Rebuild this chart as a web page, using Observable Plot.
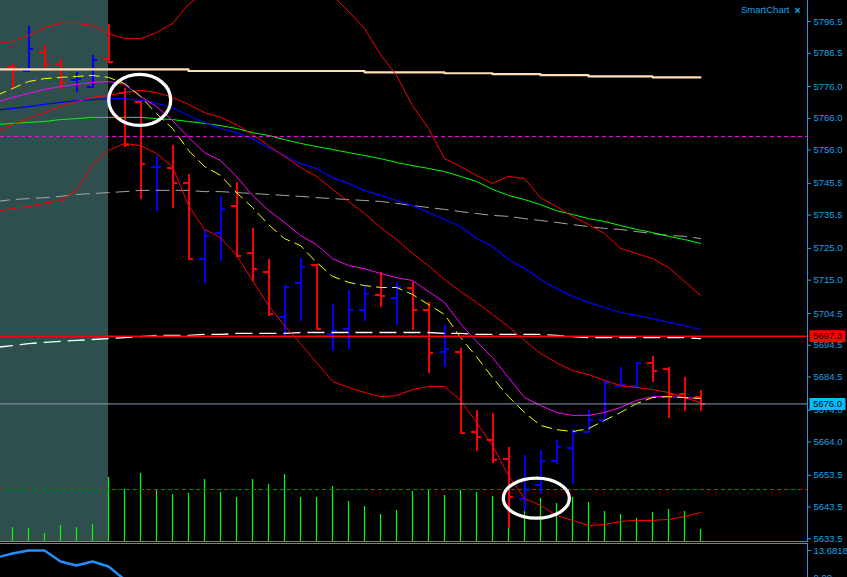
<!DOCTYPE html>
<html>
<head>
<meta charset="utf-8">
<script src="https://cdn.jsdelivr.net/npm/d3@7"></script>
<script src="https://cdn.jsdelivr.net/npm/@observablehq/plot@0.6"></script>
<style>
  html, body { margin: 0; padding: 0; background: #000; }
  #chart { position: relative; width: 847px; height: 577px; background: #000; overflow: hidden; }
  #chart > svg { position: absolute; left: 0; top: 0; }
</style>
</head>
<body>
<div id="chart"></div>
<script>
// ---------------- DATA ----------------
// OHLC bars (bar index 0..43)
const barOpen  = [5782.25,5780.75,5787.0,5783.25,5778.0,5775.75,5784.75,5774.0,5771.0,5750.5,5750.25,5745.75,5721.75,5730.0,5738.25,5723.5,5717.5,5703.25,5714.25,5719.75,5698.0,5699.75,5705.5,5710.25,5709.25,5712.5,5705.5,5692.25,5692.5,5667.0,5664.75,5658.75,5646.0,5650.5,5658.0,5662.25,5667.0,5671.0,5681.75,5681.5,5689.0,5687.0,5679.25,5678.25];
const barHigh  = [5783.0,5795.0,5789.0,5784.5,5780.5,5785.75,5795.5,5775.5,5771.5,5754.0,5757.5,5748.25,5731.0,5741.5,5745.75,5731.25,5721.5,5713.25,5721.75,5720.0,5707.25,5711.75,5713.0,5717.5,5714.25,5714.25,5708.0,5700.75,5693.5,5674.0,5673.0,5662.25,5659.75,5661.25,5664.5,5668.0,5674.0,5683.5,5687.5,5688.75,5691.0,5687.5,5684.25,5680.25];
const barLow   = [5775.0,5780.5,5781.75,5775.0,5774.0,5775.5,5783.5,5756.75,5740.5,5736.5,5737.5,5721.5,5714.0,5721.0,5722.25,5714.5,5703.5,5697.0,5702.0,5699.25,5692.5,5693.0,5702.0,5706.5,5700.75,5699.0,5685.5,5687.5,5666.25,5661.0,5657.25,5636.75,5642.0,5647.5,5657.0,5650.5,5666.75,5670.75,5681.5,5681.0,5682.75,5671.5,5673.5,5673.5];
const barClose = [5782.0,5787.75,5783.25,5777.0,5778.25,5784.25,5783.75,5757.5,5751.5,5750.75,5745.75,5721.75,5729.0,5737.5,5722.5,5718.5,5704.25,5713.0,5719.25,5699.5,5699.0,5705.5,5710.75,5710.0,5712.75,5705.5,5692.0,5693.25,5666.75,5665.5,5658.25,5646.75,5649.0,5658.0,5662.5,5667.0,5671.0,5682.5,5682.0,5688.75,5686.25,5679.25,5677.75,5676.0];
const barVolume = [1400,1300,800,1600,1400,1700,6400,5200,6800,5100,4700,4800,6200,4900,4400,6200,5700,6700,4400,4400,5500,4000,3500,2700,3100,5000,5100,4600,5100,4900,4500,5800,5700,4300,3800,4400,3900,3000,2700,2300,2900,3200,3000,1200];
const volumeAverage = 5200;

// indicator series, bar index -1..43
const upperBand  = [5789.6,5790.2,5792.1,5794.6,5795.9,5795.9,5795.2,5792.7,5791.1,5791.1,5793.0,5795.9,5801.9,5805.6,5811.0,5815.7,5818.9,5820.4,5819.5,5815.7,5810.1,5804.7,5799.7,5794.3,5786.1,5779.5,5770.0,5762.8,5753.3,5750.8,5748.0,5745.5,5747.7,5747.0,5741.0,5738.2,5735.1,5732.5,5729.7,5725.0,5723.4,5721.8,5719.0,5714.6,5710.2];
const middleBand = [5761.5,5764.0,5765.9,5767.8,5769.7,5771.3,5772.6,5773.2,5774.1,5774.8,5774.1,5772.6,5770.4,5767.8,5766.3,5764.0,5760.9,5757.4,5754.0,5750.5,5747.7,5743.6,5739.8,5736.0,5731.6,5727.8,5723.4,5719.6,5715.2,5711.4,5708.0,5704.2,5700.4,5696.0,5691.9,5689.0,5686.5,5685.3,5683.4,5681.8,5681.2,5680.5,5679.6,5678.0,5676.4];
const lowerBand  = [5736.6,5737.6,5738.2,5739.2,5740.1,5743.3,5751.4,5755.9,5758.1,5757.4,5754.9,5750.8,5738.5,5731.0,5728.4,5722.8,5714.9,5707.0,5700.7,5695.0,5689.0,5683.1,5681.2,5679.6,5678.3,5678.6,5680.5,5681.5,5681.5,5677.1,5670.2,5662.9,5653.4,5646.2,5644.0,5640.9,5639.3,5637.7,5638.0,5639.0,5639.3,5639.3,5639.6,5640.5,5641.8];
const fastMA     = [5773.2,5775.4,5777.6,5778.5,5778.9,5779.2,5779.5,5778.9,5777.0,5772.9,5767.5,5762.8,5755.9,5750.8,5748.0,5742.6,5737.9,5732.5,5728.1,5725.9,5720.6,5716.2,5714.3,5713.3,5712.7,5712.7,5710.5,5707.3,5704.2,5696.9,5690.9,5684.3,5678.3,5673.3,5669.2,5667.9,5667.3,5668.2,5670.8,5673.3,5676.1,5678.0,5678.3,5678.0,5677.7];
const magentaMA  = [5771.0,5772.6,5773.8,5775.1,5776.0,5776.7,5777.3,5777.6,5776.7,5772.9,5769.7,5765.3,5760.0,5755.2,5752.7,5747.7,5741.7,5737.0,5733.2,5729.1,5726.2,5721.8,5719.6,5718.6,5717.1,5715.8,5714.9,5711.4,5708.0,5701.3,5695.7,5690.6,5684.3,5678.0,5675.5,5673.3,5672.4,5672.4,5673.3,5674.9,5677.1,5678.3,5678.3,5678.0,5677.7];
const blueMA     = [5768.5,5769.1,5769.7,5770.4,5771.0,5771.6,5771.9,5772.2,5772.2,5771.6,5770.7,5769.4,5766.9,5764.7,5762.8,5761.5,5759.6,5756.8,5754.3,5751.7,5750.2,5747.3,5745.5,5743.3,5741.7,5740.1,5738.5,5736.3,5734.1,5731.9,5728.1,5725.6,5721.5,5718.7,5715.2,5712.4,5709.9,5708.0,5706.4,5704.8,5703.9,5702.9,5701.7,5700.7,5699.4];
const greenMA    = [5764.0,5764.4,5764.7,5765.0,5765.6,5765.9,5766.3,5766.3,5766.3,5766.3,5765.9,5765.6,5765.0,5764.4,5763.7,5762.8,5761.5,5760.6,5759.3,5758.1,5757.1,5756.2,5755.2,5754.3,5753.3,5752.1,5751.1,5750.2,5749.2,5747.7,5746.1,5743.6,5741.7,5740.4,5738.8,5736.9,5735.7,5734.4,5733.5,5732.2,5731.0,5730.0,5728.8,5727.8,5726.6];
const grayMA     = [5739.8,5740.4,5740.7,5741.0,5741.4,5742.0,5742.3,5742.6,5742.9,5743.3,5743.3,5743.3,5743.3,5742.9,5742.9,5742.6,5742.3,5742.0,5741.7,5741.4,5741.0,5740.7,5740.4,5740.1,5739.8,5739.2,5738.5,5737.9,5737.3,5736.6,5736.0,5735.4,5735.1,5734.4,5733.8,5733.2,5732.5,5731.9,5731.3,5731.0,5730.3,5729.7,5729.1,5728.8,5728.1];
const whiteMA    = [5693.8,5694.4,5695.0,5695.4,5695.7,5696.0,5696.3,5696.6,5696.9,5697.2,5697.6,5697.6,5697.6,5697.9,5697.9,5698.2,5698.2,5698.2,5698.2,5698.5,5698.5,5698.5,5698.5,5698.5,5698.5,5698.5,5698.5,5698.5,5698.2,5698.2,5697.9,5697.9,5697.9,5697.9,5697.9,5697.6,5697.2,5696.9,5696.9,5696.9,5696.9,5696.9,5696.9,5696.9,5696.6];
const beigeMA    = [5781.4,5781.4,5781.4,5781.4,5781.4,5781.4,5781.4,5781.4,5781.4,5781.4,5781.4,5781.4,5780.9,5780.9,5780.9,5780.9,5780.9,5780.9,5780.9,5780.9,5780.9,5780.9,5780.9,5780.5,5780.5,5780.5,5780.5,5780.5,5780.2,5780.2,5780.2,5779.9,5779.9,5779.9,5779.6,5779.6,5779.6,5779.2,5779.2,5779.2,5779.2,5778.9,5778.9,5778.9,5778.9];
const seriesFirstBar = -1;

// lower pane oscillator (bar index -1..7)
const oscillator = [10.13,12.16,13.6818,13.6818,8.11,6.08,8.11,5.57,-1.01];
const oscillatorTicks = [13.6818, 0];

// levels and annotations
const magentaLevel = 5760.25;
const redLevel = 5697.3;
const bidLevel = 5676.0;
const priceTicks = [5796.5,5786.5,5776.0,5766.0,5756.0,5745.5,5735.5,5725.0,5715.0,5704.5,5694.5,5684.5,5674.0,5664.0,5653.5,5643.5,5633.5];
const sessionShade = [{start: -1, end: 6}];
const circledBars = [{i: 7.95, p: 5771.8}];
const circledBars2 = [{i: 32.74, p: 5646.3}];
const chartName = ["SmartChart"];
const closeIcon = ["×"];

// ---------------- LAYOUT ----------------
const W = 847, H = 577;
const priceBottom = 541, paneTop = 543, axisMargin = 40;
const xDomain = [-0.75, 49.6875];
const priceDomain = [5632.65, 5803.12];
const volumeTop = 54100;
const paneMax = 17.23;
const axisColor = "#1ea0e6";
const font = {fontFamily: "'Liberation Sans', Arial, sans-serif", fontSize: "9.5px"};

const bars = barOpen.map((o, i) => ({i, o, h: barHigh[i], l: barLow[i], c: barClose[i]}));
bars.forEach(d => d.col = d.c >= d.o ? "#0000ff" : "#ff0000");
const series = vals => vals.map((v, k) => ({i: k + seriesFirstBar, v}));
const tickLen = 0.31;

function ellipseSymbol(rx, ry) {
  const k = 0.5523;
  return {draw(ctx) {
    ctx.moveTo(rx, 0);
    ctx.bezierCurveTo(rx, ry * k, rx * k, ry, 0, ry);
    ctx.bezierCurveTo(-rx * k, ry, -rx, ry * k, -rx, 0);
    ctx.bezierCurveTo(-rx, -ry * k, -rx * k, -ry, 0, -ry);
    ctx.bezierCurveTo(rx * k, -ry, rx, -ry * k, rx, 0);
    ctx.closePath();
  }};
}
function boxSymbol(w, h) {
  return {draw(ctx) { ctx.rect(-w / 2, -h / 2, w, h); }};
}
const lineMark = (vals, opts) => Plot.line(series(vals), {x: "i", y: "v", clip: true, ...opts});

// ---------------- VOLUME LAYER (bottom) ----------------
const volPlot = Plot.plot({
  width: W, height: H,
  marginTop: 0, marginBottom: H - priceBottom, marginLeft: 0, marginRight: axisMargin,
  x: {domain: xDomain, axis: null},
  y: {domain: [0, volumeTop], axis: null},
  style: {background: "transparent"},
  marks: [
    Plot.rect(sessionShade, {x1: "start", x2: "end", y1: 0, y2: volumeTop, fill: "#2f4f4f", clip: true}),
    Plot.ruleX(barVolume, {x: (d, i) => i, y1: 0, y2: d => d, stroke: "#00ff00", strokeWidth: 1.2}),
    Plot.ruleY([volumeAverage], {stroke: "#ff0000", strokeDasharray: "4,3", strokeWidth: 1})
  ]
});

// ---------------- PRICE LAYER ----------------
const mainPlot = Plot.plot({
  width: W, height: H,
  marginTop: 0, marginBottom: H - priceBottom, marginLeft: 0, marginRight: axisMargin,
  x: {domain: xDomain, axis: null},
  y: {domain: priceDomain},
  color: {type: "identity"},
  style: {background: "transparent", color: axisColor, ...font},
  marks: [
    // OHLC bars
    Plot.ruleX(bars, {x: "i", y1: "l", y2: "h", stroke: "col", strokeWidth: 2, shapeRendering: "crispEdges"}),
    Plot.ruleY(bars, {y: "o", x1: d => d.i - tickLen, x2: "i", stroke: "col", strokeWidth: 2, shapeRendering: "crispEdges"}),
    Plot.ruleY(bars, {y: "c", x1: "i", x2: d => d.i + tickLen, stroke: "col", strokeWidth: 2, shapeRendering: "crispEdges"}),
    // indicators
    lineMark(grayMA, {stroke: "#a8a8a8", strokeWidth: 1, strokeDasharray: "13,7"}),
    lineMark(whiteMA, {stroke: "#ffffff", strokeWidth: 1.3, strokeDasharray: "16,8"}),
    lineMark(greenMA, {stroke: "#00ff00", strokeWidth: 1}),
    lineMark(blueMA, {stroke: "#0000ff", strokeWidth: 1.2}),
    lineMark(beigeMA, {stroke: "#ffdfb5", strokeWidth: 2.2, curve: "step-after"}),
    lineMark(upperBand, {stroke: "#ff0000", strokeWidth: 1}),
    lineMark(middleBand, {stroke: "#ff0000", strokeWidth: 1}),
    lineMark(lowerBand, {stroke: "#ff0000", strokeWidth: 1}),
    lineMark(magentaMA, {stroke: "#ff00ff", strokeWidth: 1}),
    lineMark(fastMA, {stroke: "#ffff00", strokeWidth: 1, strokeDasharray: "10,6"}),
    // levels
    Plot.ruleY([magentaLevel], {stroke: "#ff00ff", strokeWidth: 1, strokeDasharray: "4,3"}),
    Plot.ruleY([redLevel], {stroke: "#ff0000", strokeWidth: 1.5}),
    Plot.ruleY([bidLevel], {stroke: "#8a9bb0", strokeWidth: 1}),
    // annotations
    Plot.dot(circledBars, {x: "i", y: "p", symbol: ellipseSymbol(31, 25.5), stroke: "#ffffff", strokeWidth: 3.3, fill: "none"}),
    Plot.dot(circledBars2, {x: "i", y: "p", symbol: ellipseSymbol(33, 20), stroke: "#ffffff", strokeWidth: 3.3, fill: "none"}),
    // axis
    Plot.axisY(priceTicks, {anchor: "right", tickSize: 3, tickPadding: 3, tickFormat: d => d.toFixed(1), label: null}),
    Plot.frame({anchor: "right", stroke: axisColor}),
    Plot.frame({anchor: "bottom", stroke: axisColor}),
    // price tags
    Plot.dot([redLevel], {y: d => d, frameAnchor: "right", dx: 20, symbol: boxSymbol(36, 12), fill: "#ff0000"}),
    Plot.text([redLevel], {y: d => d, frameAnchor: "right", dx: 20, textAnchor: "middle", text: d => d.toFixed(1), fill: "#000000"}),
    Plot.dot([bidLevel], {y: d => d, frameAnchor: "right", dx: 20, symbol: boxSymbol(36, 12), fill: "#00bfff"}),
    Plot.text([bidLevel], {y: d => d, frameAnchor: "right", dx: 20, textAnchor: "middle", text: d => d.toFixed(1), fill: "#000000"}),
    // title
    Plot.text(chartName, {frameAnchor: "top-right", dx: -18, dy: 6, textAnchor: "end", fill: axisColor}),
    Plot.text(closeIcon, {frameAnchor: "top-right", dx: -10, dy: 6, textAnchor: "middle", fill: axisColor, fontWeight: "bold", fontSize: 11})
  ]
});

// ---------------- LOWER PANE ----------------
const panePlot = Plot.plot({
  width: W, height: H,
  marginTop: paneTop, marginBottom: 0, marginLeft: 0, marginRight: axisMargin,
  x: {domain: xDomain, axis: null},
  y: {domain: [0, paneMax]},
  style: {background: "transparent", color: axisColor, ...font},
  marks: [
    lineMark(oscillator, {stroke: "#1e90ff", strokeWidth: 2.4}),
    Plot.axisY(oscillatorTicks, {anchor: "right", tickSize: 3, tickPadding: 3, tickFormat: d => d === 0 ? "0.00" : String(d), label: null}),
    Plot.frame({anchor: "right", stroke: axisColor}),
    Plot.frame({anchor: "top", stroke: axisColor})
  ]
});

document.getElementById("chart").append(volPlot, mainPlot, panePlot);
</script>
</body>
</html>
